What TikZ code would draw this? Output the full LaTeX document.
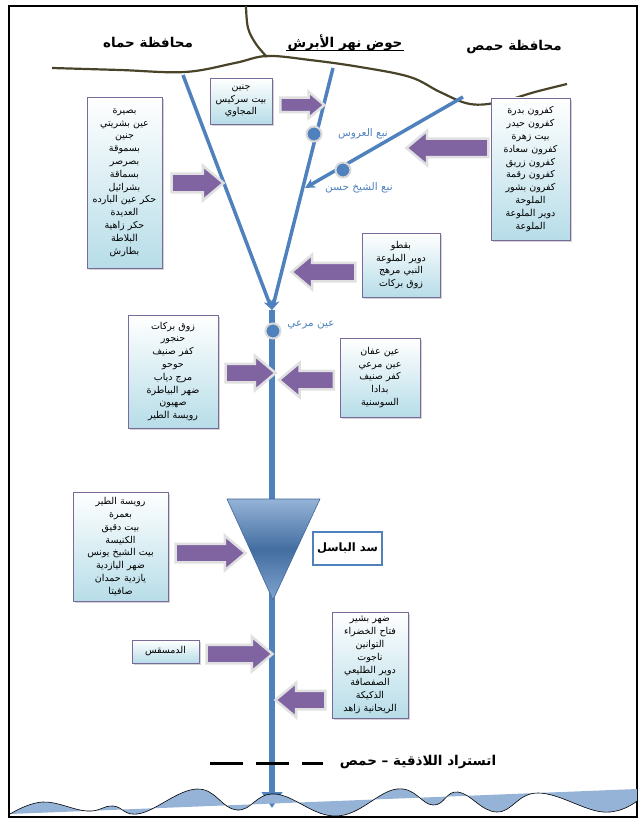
\documentclass[tikz,border=0pt]{standalone}
\usepackage{fontspec}
\usetikzlibrary{positioning,shapes.arrows,arrows.meta,shadows}
\TeXXeTstate=1
\newfontfamily\arabicfont[Script=Arabic]{DejaVu Sans}
\newcommand{\artext}[1]{{\arabicfont\beginR #1\endR}}

\definecolor{riverblue}{HTML}{4F81BD}
\definecolor{damlight}{HTML}{95B3D7}
\definecolor{arrowpurple}{HTML}{8064A2}
\definecolor{boxblue}{HTML}{B7DDE8}
\definecolor{boxborder}{HTML}{7A6A9A}
\definecolor{borderbrown}{HTML}{494429}
\definecolor{wavefill}{HTML}{95B3D7}

\tikzset{
  villagebox/.style={draw=boxborder, line width=0.8pt, top color=white, bottom color=boxblue,
    align=center, inner sep=1pt, font=\fontsize{9.5}{12.8}\selectfont,
    drop shadow={shadow xshift=2pt, shadow yshift=-2pt, opacity=0.35}},
  blockarrow/.style={single arrow, fill=arrowpurple, draw=black!12, line width=2.5pt,
    inner xsep=0pt, inner ysep=8pt, single arrow head extend=8pt, single arrow tip angle=80},
  leftarrow/.style={blockarrow, shape border rotate=180},
  spring/.style={circle, fill=riverblue, draw=black!15, line width=2pt, minimum size=15pt, inner sep=0pt},
  springlabel/.style={text=riverblue, font=\fontsize{10.5}{12}\selectfont},
  tributary/.style={riverblue, line width=3.5pt},
  region/.style={font=\bfseries\fontsize{13.5}{15}\selectfont, inner sep=1pt},
  border/.style={draw=borderbrown, line width=2.2pt},
}

\begin{document}
\begin{tikzpicture}[x=1pt, y=-1pt]
  \useasboundingbox (0,0) rectangle (642,821);
  \draw[line width=2pt] (9,6) rectangle (637,817);

  % Governorate borders
  \draw[border] plot[smooth, tension=0.6] coordinates {(246,6) (248,28) (256,44) (267,57)};
  \draw[border] plot[smooth, tension=0.6] coordinates {(52,68) (120,70) (185,72) (235,63) (267,56)
    (310,60) (360,67) (410,77) (440,92) (470,104) (500,102) (535,92) (567,84)};

  % Region titles
  \node[region] (hama)  at (148,43) {\artext{محافظة حماه}};
  \node[region] (basin) at (345,43) {\artext{حوض نهر الأبرش}};
  \draw[line width=0.8pt] ([yshift=-2.5pt]basin.base west) -- ([yshift=-2.5pt]basin.base east);
  \node[region] (homs)  at (514,47) {\artext{محافظة حمص}};

  % The river and its branches
  \coordinate (hamasrc) at (183,75);
  \coordinate (midsrc)  at (333,68);
  \coordinate (homssrc) at (463,97);
  \coordinate (conf)    at (272,310);
  \coordinate (homsend) at (305,188);
  \coordinate (mouth)   at (272,808);
  \draw[tributary, -{Stealth[length=10pt,width=10pt]}] (hamasrc) -- (conf);
  \draw[tributary, -{Stealth[length=10pt,width=10pt]}] (midsrc) -- (conf);
  \draw[tributary, -{Stealth[length=10pt,width=10pt]}] (homssrc) -- (homsend);
  \draw[riverblue, line width=6.5pt, -{Triangle[length=16pt,width=20pt]}] (conf) -- (mouth);

  % Springs
  \node[spring] (arous) at (314,134) {};
  \node[springlabel, right=12pt of arous] (arouslbl) {\artext{نبع العروس}};
  \node[spring] (hasan) at (343,170) {};
  \node[springlabel] (hasanlbl) at (359,188) {\artext{نبع الشيخ حسن}};
  \node[spring] (marai) at (273,331) {};
  \node[springlabel] (marailbl) at (311,325) {\artext{عين مرعي}};

  % Dam
  \path[draw=riverblue!80!black, line width=0.6pt, top color=damlight, bottom color=damlight!70!riverblue,
      middle color=riverblue!85!black]
    (227,499) -- (320,499) -- (273,600) -- cycle;
  \node[draw=riverblue, line width=2.5pt, fill=white, minimum width=69pt, minimum height=33pt,
    font=\bfseries\fontsize{11.5}{13}\selectfont] (basel) at (347.5,548.5) {\artext{سد الباسل}};

  % Villages
  \node[villagebox, text width=73pt, minimum height=171pt] (vhama) at (124.5,182.5)
    {\artext{بصيرة}\\\artext{عين بشريتي}\\\artext{جنين}\\\artext{بسموقة}\\\artext{بصرصر}\\\artext{بسماقة}\\
     \artext{بشرائيل}\\\artext{حكر عين البارده}\\\artext{العديدة}\\\artext{حكر زاهية}\\\artext{البلاطة}\\\artext{بطارش}};
  \node[villagebox, text width=60pt, minimum height=46pt] (vjenin) at (241,101)
    {\artext{جنين}\\\artext{بيت سركيس}\\\artext{المجاوي}};
  \node[villagebox, text width=77pt, minimum height=142pt] (vhoms) at (530.5,169)
    {\artext{كفرون بدرة}\\\artext{كفرون حيدر}\\\artext{بيت زهرة}\\\artext{كفرون سعادة}\\\artext{كفرون زريق}\\
     \artext{كفرون رقمة}\\\artext{كفرون بشور}\\\artext{الملوحة}\\\artext{دوير الملوعة}\\\artext{الملوعة}};
  \node[villagebox, text width=76pt, minimum height=64pt] (vbaqtu) at (401,265)
    {\artext{بقطو}\\\artext{دوير الملوعة}\\\artext{النبي مرهج}\\\artext{زوق بركات}};
  \node[villagebox, text width=88pt, minimum height=113pt] (vzouq) at (173,371.5)
    {\artext{زوق بركات}\\\artext{حنجور}\\\artext{كفر صنيف}\\\artext{حوحو}\\\artext{مرج دياب}\\
     \artext{ضهر البياطرة}\\\artext{صهيون}\\\artext{رويسة الطير}};
  \node[villagebox, text width=78pt, minimum height=79pt] (vaffan) at (380,377.5)
    {\artext{عين عفان}\\\artext{عين مرعي}\\\artext{كفر صنيف}\\\artext{بدادا}\\\artext{السوسنية}};
  \node[villagebox, text width=93pt, minimum height=109pt] (vtair) at (120.5,546.5)
    {\artext{رويسة الطير}\\\artext{بعمرة}\\\artext{بيت دقيق}\\\artext{الكنيسة}\\\artext{بيت الشيخ يونس}\\
     \artext{ضهر اليازدية}\\\artext{يازدية حمدان}\\\artext{صافيتا}};
  \node[villagebox, text width=65pt, minimum height=23pt] (vdams) at (165.5,651.5)
    {\artext{الدمسقس}};
  \node[villagebox, text width=74pt, minimum height=106pt] (vdahr) at (370,665)
    {\artext{ضهر بشير}\\\artext{فتاح الخضراء}\\\artext{التوانين}\\\artext{ناجوت}\\\artext{دوير الطليعي}\\
     \artext{الصفصافة}\\\artext{الذكيكة}\\\artext{الريحانية زاهد}};

  % Arrows from the villages to the river
  \node[blockarrow, minimum height=52pt] (ahama) at (192,183) {};
  \node[blockarrow, minimum height=44pt, inner ysep=6pt, single arrow head extend=6pt] (ajenin) at (298,105) {};
  \node[leftarrow, minimum height=82pt] (ahoms) at (453,148) {};
  \node[leftarrow, minimum height=64pt] (abaqtu) at (329,272) {};
  \node[blockarrow, minimum height=50pt] (azouq) at (245,373) {};
  \node[leftarrow, minimum height=55pt] (aaffan) at (312,380) {};
  \node[blockarrow, minimum height=70pt] (atair) at (205,553) {};
  \node[blockarrow, minimum height=66pt] (adams) at (234,654) {};
  \node[leftarrow, minimum height=50pt] (adahr) at (306,700) {};

  % Highway
  \draw[line width=3pt, dash pattern=on 33pt off 13pt] (210,763) -- (323,763);
  \node[region] (road) at (418,762) {\artext{اتستراد اللاذقية – حمص}};

  % Sea
  \fill[wavefill] plot[smooth, tension=0.7] coordinates {(10,814) (43,802) (87,811) (113,806) (140,813.5)
      (197,789) (237,810) (275,794) (337,816) (397,789) (433,805) (458,792) (497,812) (538,793)
      (603,812) (637,801)} -- (637,789) -- cycle;
  \draw[line width=0.6pt] plot[smooth, tension=0.7] coordinates {(10,814) (43,802) (87,811) (113,806) (140,813.5)
      (197,789) (237,810) (275,794) (337,816) (397,789) (433,805) (458,792) (497,812) (538,793)
      (603,812) (637,801)};
\end{tikzpicture}
\end{document}
